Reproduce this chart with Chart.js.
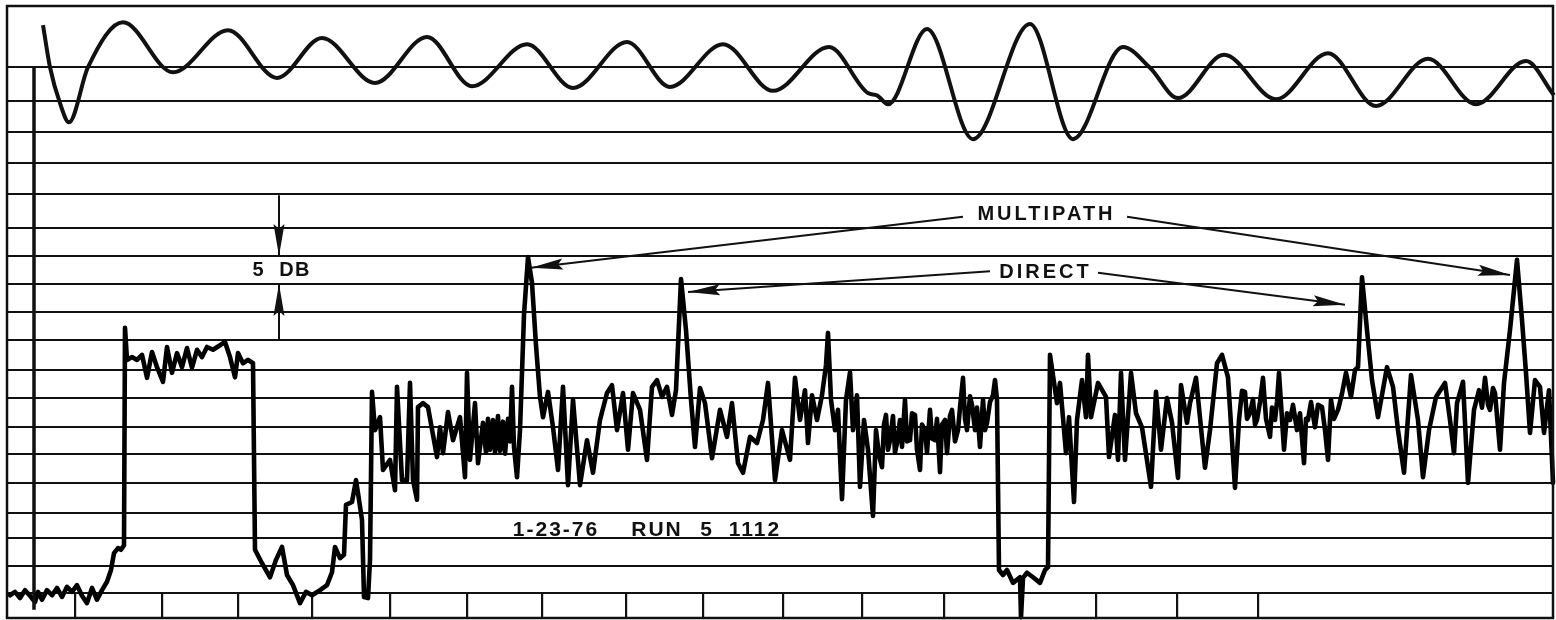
<!DOCTYPE html>
<html>
<head>
<meta charset="utf-8">
<title>1-23-76 Run 5 1112</title>
<script src="https://cdn.jsdelivr.net/npm/chart.js@4.4.1/dist/chart.umd.min.js"></script>
<style>
  html, body { margin: 0; padding: 0; background: #fff; }
  #wrap { width: 1556px; height: 620px; position: relative; }
</style>
</head>
<body>
<div id="wrap"><canvas id="strip"></canvas></div>
<script>
// x = position along the strip chart, y = relative level in dB (5 dB per division)
const gridLevels = [0, 4.8, 9.8, 14.2, 19.6, 24.7, 29.5, 34.7, 39.7, 45.0, 50.0, 55.0, 60.0, 65.0, 71.0, 76.5, 82.1, 87.6, 93.6];
const timeMarks = [75, 162, 238, 312, 390, 467, 542, 626, 703, 783, 862, 944, 1021, 1096, 1177, 1258];

// upper pen: reference oscillation
const referenceWave = [
  [43, 101.1], [50, 93.6], [60, 87.2], [69, 83.8], [88, 93.6], [123, 101.6], [173, 92.7],
  [228, 100.2], [277, 91.7], [322, 98.8], [375, 90.8], [427, 99.0], [472, 90.2], [527, 97.7],
  [573, 89.9], [627, 98.1], [670, 90.1], [723, 97.7], [773, 89.4], [829, 97.2], [868, 89.0],
  [877, 88.6], [888, 87.0], [927, 100.4], [973, 80.8], [1030, 101.3], [1073, 80.8], [1123, 97.2],
  [1150, 93.5], [1178, 88.1], [1224, 95.8], [1276, 87.9], [1328, 96.1], [1376, 86.7],
  [1428, 95.1], [1476, 87.0], [1526, 94.7], [1554, 88.6]
];

// start-of-run calibration stroke
const calibrationMark = [[34, 93.6], [34, -3.0]];

// lower pen: received signal level
const receivedLevel = [
  [10, -0.4], [15, 0.2], [20, -0.9], [25, 0.5], [30, -0.5], [35, -1.6], [38, 0.2], [42, -1.2],
  [47, 0.5], [52, -0.4], [57, 0.9], [62, -0.7], [67, 1.1], [72, 0.2], [77, 1.4], [82, -0.5],
  [87, -1.8], [92, 0.9], [97, -1.2], [102, 0.5], [107, 2.0], [111, 4.1], [114, 7.1], [118, 8.0],
  [121, 7.7], [124, 8.5], [125, 47.2], [127, 41.5], [132, 42.0], [137, 41.5], [142, 42.4],
  [147, 38.3], [152, 42.9], [157, 40.2], [163, 37.6], [167, 43.8], [172, 39.2], [177, 42.7],
  [182, 40.2], [187, 43.6], [192, 40.1], [197, 43.3], [202, 42.0], [207, 43.8], [213, 43.3],
  [220, 44.1], [225, 44.7], [230, 42.0], [235, 38.4], [238, 42.7], [243, 40.9], [248, 41.5],
  [253, 40.9], [255, 7.7], [262, 5.3], [270, 2.8], [276, 5.9], [282, 8.2], [287, 3.2],
  [293, 1.4], [300, -1.8], [306, 0.2], [312, -0.4], [320, 0.5], [327, 1.4], [332, 3.7],
  [335, 8.2], [340, 6.2], [344, 6.8], [346, 15.7], [352, 16.2], [356, 20.1], [359, 16.6],
  [362, 13.0], [364, -0.7], [368, -0.9], [370, 5.9], [372, 35.8], [375, 29.0], [380, 31.3],
  [383, 21.9], [390, 23.7], [395, 18.3], [397, 36.7], [402, 20.1], [407, 20.1], [410, 37.4],
  [413, 20.1], [417, 16.6], [418, 33.1], [423, 33.8], [428, 33.1], [437, 24.2], [440, 29.5],
  [443, 24.9], [448, 32.2], [453, 27.2], [460, 31.3], [465, 20.6], [467, 39.2], [470, 23.7],
  [475, 33.8], [478, 23.1], [483, 30.3], [486, 25.0], [488, 31.0], [490, 25.5], [493, 30.8],
  [495, 25.0], [498, 31.5], [500, 25.3], [503, 30.5], [505, 24.8], [508, 31.0], [510, 27.0],
  [512, 36.7], [514, 26.0], [517, 20.6], [520, 29.0], [524, 49.5], [528, 59.8], [532, 55.2],
  [536, 44.1], [540, 34.9], [543, 31.3], [548, 35.8], [553, 29.5], [558, 21.9], [563, 36.7],
  [568, 19.2], [573, 34.4], [580, 19.2], [587, 27.2], [593, 21.4], [600, 30.8], [607, 35.6],
  [612, 37.0], [617, 29.0], [623, 35.6], [628, 25.5], [633, 35.6], [640, 32.6], [647, 23.7],
  [652, 36.7], [657, 37.9], [662, 34.9], [667, 36.7], [672, 31.7], [676, 36.1], [681, 55.9],
  [686, 46.8], [691, 34.4], [695, 26.0], [700, 36.5], [705, 33.8], [712, 24.0], [720, 32.6],
  [727, 27.8], [732, 33.8], [738, 23.1], [743, 21.4], [750, 27.8], [757, 26.7], [763, 30.8],
  [768, 37.4], [775, 20.1], [782, 29.0], [790, 23.7], [795, 38.3], [800, 30.8], [805, 36.1],
  [808, 26.7], [812, 35.2], [817, 30.8], [822, 35.2], [826, 40.6], [828, 46.3], [831, 34.4],
  [835, 29.0], [838, 32.6], [842, 16.7], [846, 34.4], [850, 39.3], [853, 29.0], [857, 35.2],
  [860, 18.9], [864, 30.8], [868, 25.5], [873, 13.7], [876, 29.0], [879, 24.5], [882, 22.4],
  [884, 30.0], [886, 31.7], [888, 25.5], [890, 27.2], [893, 31.5], [895, 25.0], [897, 26.7],
  [900, 30.8], [902, 26.0], [905, 34.4], [907, 27.0], [910, 27.2], [912, 32.0], [915, 31.7],
  [917, 25.5], [920, 21.9], [922, 30.0], [925, 29.0], [927, 25.0], [930, 32.6], [932, 27.5],
  [935, 27.2], [937, 31.0], [940, 21.5], [942, 30.0], [945, 30.8], [947, 24.9], [950, 31.5],
  [952, 32.6], [955, 27.0], [958, 29.0], [960, 33.0], [963, 38.3], [965, 31.0], [967, 29.0],
  [970, 35.0], [972, 33.5], [975, 29.0], [977, 33.0], [980, 26.0], [983, 34.4], [985, 29.0],
  [987, 30.3], [990, 34.0], [993, 35.2], [995, 37.9], [997, 34.4], [999, 4.1], [1003, 3.2],
  [1007, 4.1], [1013, 1.8], [1020, 2.8], [1021, -4.3], [1023, 2.7], [1027, 3.6], [1033, 2.8],
  [1040, 1.8], [1045, 4.1], [1048, 4.6], [1050, 42.4], [1057, 33.8], [1060, 37.4], [1066, 24.9],
  [1069, 31.3], [1074, 16.2], [1077, 30.8], [1082, 37.9], [1086, 31.3], [1088, 42.4],
  [1091, 31.3], [1098, 37.4], [1106, 34.9], [1109, 24.2], [1115, 31.7], [1118, 23.7],
  [1121, 39.2], [1125, 23.7], [1131, 39.2], [1136, 32.0], [1142, 29.5], [1151, 18.9],
  [1156, 35.8], [1161, 25.5], [1167, 34.7], [1172, 30.3], [1178, 20.5], [1181, 37.0],
  [1187, 30.3], [1190, 33.8], [1196, 38.3], [1205, 22.3], [1210, 29.0], [1217, 40.9],
  [1222, 42.4], [1228, 38.4], [1235, 18.7], [1239, 30.8], [1242, 36.0], [1245, 35.8],
  [1247, 31.0], [1250, 32.0], [1253, 34.5], [1255, 30.0], [1257, 30.8], [1260, 34.0],
  [1263, 38.3], [1266, 31.0], [1270, 27.8], [1272, 33.0], [1275, 30.8], [1277, 34.0],
  [1279, 39.2], [1282, 31.0], [1284, 25.5], [1287, 32.0], [1290, 30.8], [1293, 33.5],
  [1297, 29.0], [1300, 32.0], [1304, 23.1], [1306, 31.0], [1308, 30.8], [1311, 34.0],
  [1315, 29.5], [1318, 33.5], [1322, 33.1], [1325, 29.0], [1328, 23.7], [1331, 34.4],
  [1334, 31.0], [1338, 32.6], [1342, 35.5], [1346, 39.2], [1351, 34.9], [1355, 39.7],
  [1358, 40.2], [1362, 56.2], [1367, 46.8], [1372, 37.9], [1378, 31.3], [1387, 40.2],
  [1393, 36.7], [1398, 29.0], [1404, 21.4], [1411, 38.8], [1418, 30.8], [1423, 20.6],
  [1429, 29.0], [1436, 34.9], [1445, 37.4], [1450, 30.8], [1454, 24.9], [1457, 33.8],
  [1463, 37.6], [1468, 19.6], [1474, 32.6], [1479, 36.1], [1482, 33.0], [1485, 38.3],
  [1488, 33.5], [1490, 32.6], [1493, 36.5], [1495, 35.6], [1500, 25.5], [1504, 37.4],
  [1510, 46.8], [1517, 59.3], [1522, 48.6], [1526, 39.2], [1530, 28.5], [1535, 37.9],
  [1540, 36.7], [1544, 28.5], [1549, 36.1], [1553, 19.6]
];

const ink = '#111';
const toPoints = list => list.map(([x, y]) => ({ x, y }));

// labels and arrows drawn on the paper, placed in chart units
const stripNotes = {
  id: 'stripNotes',
  afterDraw(chart) {
    const { ctx, chartArea: a, scales: { x, y } } = chart;
    const px = v => x.getPixelForValue(v);
    const py = v => y.getPixelForValue(v);

    ctx.save();
    ctx.strokeStyle = ink;
    ctx.fillStyle = ink;

    // paper frame
    ctx.lineWidth = 2.5;
    ctx.strokeRect(a.left, a.top, a.right - a.left, x.bottom - a.top);

    const arrow = (x0, y0, x1, y1) => {
      const X0 = px(x0), Y0 = py(y0), X1 = px(x1), Y1 = py(y1);
      const ang = Math.atan2(Y1 - Y0, X1 - X0);
      const len = 32, half = 5.5;
      ctx.lineWidth = 2;
      ctx.beginPath();
      ctx.moveTo(X0, Y0);
      ctx.lineTo(X1, Y1);
      ctx.stroke();
      ctx.beginPath();
      ctx.moveTo(X1, Y1);
      ctx.lineTo(X1 - len * Math.cos(ang) + half * Math.sin(ang), Y1 - len * Math.sin(ang) - half * Math.cos(ang));
      ctx.lineTo(X1 - len * Math.cos(ang) * 0.85, Y1 - len * Math.sin(ang) * 0.85);
      ctx.lineTo(X1 - len * Math.cos(ang) - half * Math.sin(ang), Y1 - len * Math.sin(ang) + half * Math.cos(ang));
      ctx.closePath();
      ctx.fill();
    };

    const label = (text, xv, yv, size, spacing) => {
      ctx.font = 'bold ' + size + 'px "Liberation Sans", Arial, sans-serif';
      ctx.textAlign = 'center';
      ctx.textBaseline = 'middle';
      if ('letterSpacing' in ctx) ctx.letterSpacing = spacing + 'px';
      ctx.fillText(text, px(xv) + spacing / 2, py(yv));
      if ('letterSpacing' in ctx) ctx.letterSpacing = '0px';
    };

    // 5 dB scale marker
    arrow(279, 70.8, 279, 60.0);
    arrow(279, 45.0, 279, 55.0);
    label('5  DB', 281, 57.5, 20, 1.5);

    // multipath / direct call-outs
    label('MULTIPATH', 1045, 67.3, 20, 3);
    arrow(963, 67.0, 531, 57.9);
    arrow(1127, 67.0, 1510, 56.6);

    label('DIRECT', 1044, 57.1, 20, 3);
    arrow(990, 57.3, 688, 53.6);
    arrow(1098, 57.0, 1345, 51.3);

    // run identification
    label('1-23-76', 555, 11.2, 21, 2);
    label('RUN', 656, 11.2, 21, 2);
    label('5', 706, 11.2, 21, 2);
    label('1112', 754, 11.2, 21, 2);

    ctx.restore();
  }
};

new Chart(document.getElementById('strip'), {
  type: 'line',
  data: {
    datasets: [
      {
        label: 'Reference',
        data: toPoints(referenceWave),
        borderColor: ink,
        borderWidth: 4,
        pointRadius: 0,
        cubicInterpolationMode: 'monotone',
        clip: false
      },
      {
        label: 'Calibration',
        data: toPoints(calibrationMark),
        borderColor: ink,
        borderWidth: 3.5,
        pointRadius: 0,
        clip: false
      },
      {
        label: 'Received level (dB)',
        data: toPoints(receivedLevel),
        borderColor: '#000',
        borderWidth: 4.6,
        borderJoinStyle: 'round',
        borderCapStyle: 'round',
        pointRadius: 0,
        tension: 0,
        clip: false
      }
    ]
  },
  options: {
    responsive: true,
    maintainAspectRatio: false,
    animation: false,
    devicePixelRatio: 1,
    layout: { padding: { left: 7, top: 6, right: 3, bottom: 2 } },
    plugins: {
      legend: { display: false },
      tooltip: { enabled: false },
      title: { display: false }
    },
    scales: {
      x: {
        type: 'linear',
        min: 7,
        max: 1553,
        afterBuildTicks: scale => { scale.ticks = timeMarks.map(v => ({ value: v })); },
        ticks: { display: false },
        border: { display: false },
        grid: {
          drawOnChartArea: false,
          drawTicks: true,
          tickLength: 25,
          color: ink,
          lineWidth: 2.2
        }
      },
      y: {
        type: 'linear',
        min: 0,
        max: 104.5,
        afterBuildTicks: scale => { scale.ticks = gridLevels.map(v => ({ value: v })); },
        ticks: { display: false },
        border: { display: false },
        grid: {
          drawTicks: false,
          color: ink,
          lineWidth: 2
        }
      }
    }
  },
  plugins: [stripNotes]
});
</script>
</body>
</html>
